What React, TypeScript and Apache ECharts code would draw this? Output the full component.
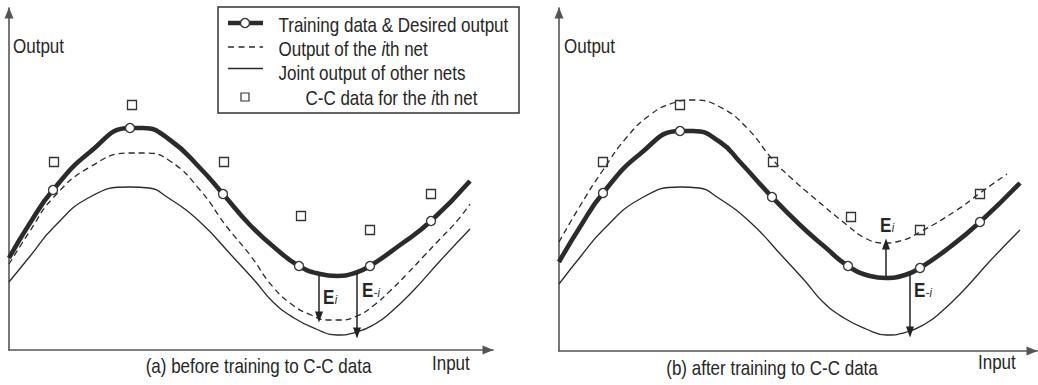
import React, { useEffect, useRef } from "react";
import * as echarts from "echarts";

// ---- Panel (a): before training to C-C data (units: abstract input/output) ----
const desiredA = [[0,92],[21,127],[44,160],[81,198],[121,222],[134,222],[161,210],[191,182],[214,156],[241,125],[266,102],[290,84],[311,76],[328,74],[346,77],[361,84],[391,105],[422,129],[461,169]];
const ithNetA = [[0,86],[21,119],[44,152],[81,183],[121,197],[136,197],[161,189],[191,160],[218,123],[241,95],[264,63],[285,44],[302,35],[318,30],[331,30],[348,34],[364,44],[381,59],[398,76],[414,93],[431,111],[448,129],[461,146]];
const otherNetsA = [[0,68],[22,95],[44,122],[81,153],[121,163],[140,162],[158,153],[191,128],[224,93],[246,69],[264,48],[285,32],[307,21],[328,15],[348,18],[366,26],[381,37],[404,59],[431,89],[461,121]];
const trainingA = [[44,160],[121,222],[214,156],[290,84],[361,84],[422,129]];
const ccDataA = [[45,188],[123,245],[215,188],[292,134],[361,120],[422,156]];
const errArrowsA = [[[310,74],[310,33]],[[348,77],[348,17]]];
const errLabelsA = [{ sub: "i", at: [314,53] }, { sub: "-i", at: [353,60] }];

// ---- Panel (b): after training to C-C data ----
const desiredB = [[0,89],[21,124],[44,158],[81,197],[121,220],[134,220],[161,209],[181,189],[213,154],[241,126],[266,104],[289,85],[311,75],[327,73],[346,76],[361,83],[391,104],[421,129],[461,168]];
const ithNetB = [[0,109],[21,145],[44,181],[68,214],[91,236],[114,248],[134,251],[161,244],[188,223],[214,191],[231,174],[254,154],[288,126],[306,113],[324,108],[341,110],[361,119],[398,141],[421,158],[448,177]];
const otherNetsB = [[0,67],[22,95],[44,121],[81,152],[121,164],[140,163],[158,154],[191,129],[224,94],[246,70],[264,49],[285,33],[307,22],[328,16],[348,19],[366,27],[381,38],[404,60],[431,90],[461,121]];
const trainingB = [[44,158],[121,220],[213,154],[289,85],[361,83],[421,129]];
const ccDataB = [[44,189],[121,246],[214,189],[292,134],[361,121],[421,157]];
const errArrowsB = [[[327,75],[327,107]],[[351,78],[351,19]]];
const errLabelsB = [{ sub: "i", at: [321,126] }, { sub: "-i", at: [355,61] }];

// ---- Texts ----
const legendItems = [
  "Training data & Desired output",
  "Output of the {it|i}th net",
  "Joint output of other nets",
  "C-C data for the {it|i}th net",
];
const captions = ["(a) before training to C-C data", "(b) after training to C-C data"];
const yAxisName = "Output";
const xAxisName = "Input";

const FONT = "'Liberation Sans', Arial, Helvetica, sans-serif";
const INK = "#262626";
const AXIS = "#555";
const SX = 0.85;

function txt(text: string, x: number, y: number, extra: any = {}) {
  const { align = "left", ...rest } = extra;
  return {
    type: "text",
    x,
    y,
    scaleX: SX,
    silent: true,
    z: 100,
    style: {
      text,
      fontSize: 20,
      fontFamily: FONT,
      fill: INK,
      align,
      textAlign: align,
      verticalAlign: "middle",
      textVerticalAlign: "middle",
      rich: { it: { fontStyle: "italic", fontSize: 20, fontFamily: FONT, fill: INK } },
      ...rest,
    },
  };
}

function axisPair(grid: number, xmax: number, ymax: number) {
  const line = { show: true, onZero: false, symbol: ["none", "triangle"], symbolSize: [9, 11], symbolOffset: [0, -5], lineStyle: { color: AXIS, width: 1.6 } };
  return {
    x: { type: "value", gridIndex: grid, min: 0, max: xmax, axisLine: line, axisTick: { show: false }, axisLabel: { show: false }, splitLine: { show: false } },
    y: { type: "value", gridIndex: grid, min: 0, max: ymax, axisLine: line, axisTick: { show: false }, axisLabel: { show: false }, splitLine: { show: false } },
  };
}

function panelSeries(idx: number, desired: number[][], ith: number[][], others: number[][], training: number[][], cc: number[][], arrows: number[][][]) {
  const base = { xAxisIndex: idx, yAxisIndex: idx, silent: true, emphasis: { disabled: true } };
  return [
    {
      ...base, type: "line", name: "Joint output of other nets", data: others, smooth: 0.5, showSymbol: false, symbol: "none",
      lineStyle: { color: "#2a2a2a", width: 1.3 },
      markLine: {
        silent: true, symbol: ["none", "triangle"], symbolSize: [8, 11],
        label: { show: false }, lineStyle: { color: "#222", width: 1.5, type: "solid" },
        itemStyle: { color: "#222" },
        emphasis: { disabled: true },
        data: arrows.map(([s, e]) => [{ coord: s }, { coord: e }]),
      },
    },
    { ...base, type: "line", name: "Output of the ith net", data: ith, smooth: 0.5, showSymbol: false, symbol: "none", lineStyle: { color: "#2a2a2a", width: 1.3, type: [6, 4] } },
    { ...base, type: "line", name: "Desired output", data: desired, smooth: 0.5, showSymbol: false, symbol: "none", lineStyle: { color: "#2b2b2b", width: 4.6 }, z: 3 },
    { ...base, type: "scatter", name: "C-C data", data: cc, symbol: "rect", symbolSize: 9, itemStyle: { color: "rgba(255,255,255,0)", borderColor: "#333", borderWidth: 1.3, opacity: 1 }, z: 4 },
    { ...base, type: "scatter", name: "Training data", data: training, symbol: "circle", symbolSize: 9, itemStyle: { color: "#fff", borderColor: "#333", borderWidth: 1.3, opacity: 1 }, z: 5 },
  ];
}

export default function App() {
  const ref = useRef<HTMLDivElement>(null);
  useEffect(() => {
    document.body.style.margin = "0";
    const chart = echarts.init(ref.current!, null, { renderer: "svg" });
    const a = axisPair(0, 484, 342);
    const b = axisPair(1, 478, 343);
    chart.setOption({
      animation: false,
      grid: [
        { left: 9, top: 8, width: 484, height: 342 },
        { left: 559, top: 8, width: 478, height: 343 },
      ],
      xAxis: [a.x, b.x],
      yAxis: [a.y, b.y],
      series: [
        ...panelSeries(0, desiredA, ithNetA, otherNetsA, trainingA, ccDataA, errArrowsA),
        ...panelSeries(1, desiredB, ithNetB, otherNetsB, trainingB, ccDataB, errArrowsB),
      ],
    });

    const px = (g: number, v: number[]) => chart.convertToPixel({ gridIndex: g } as any, v) as number[];
    const errEls: any[] = [];
    [errLabelsA, errLabelsB].forEach((labels, g) => {
      labels.forEach((l) => {
        const [x, y] = px(g, l.at);
        errEls.push(txt("E", x, y, { fontWeight: "bold", fontSize: 20 }));
        errEls.push(txt(l.sub, x + 11.8, y + 2.6, { fontStyle: "italic", fontSize: 13 }));
      });
    });

    const rowsY = [24.5, 48.5, 72.5, 97.5];
    const legendEls: any[] = [
      { type: "rect", shape: { x: 218, y: 7, width: 301, height: 106 }, style: { fill: "#fff", stroke: "#333", lineWidth: 1.5 }, z: 90, silent: true },
      { type: "line", shape: { x1: 228, y1: 23, x2: 263, y2: 23 }, style: { stroke: "#2b2b2b", lineWidth: 4.6 }, z: 91, silent: true },
      { type: "circle", shape: { cx: 245, cy: 23, r: 4.5 }, style: { fill: "#fff", stroke: "#333", lineWidth: 1.3 }, z: 92, silent: true },
      { type: "line", shape: { x1: 228, y1: 47, x2: 263, y2: 47 }, style: { stroke: "#2a2a2a", lineWidth: 1.4, lineDash: [6, 4.5] }, z: 91, silent: true },
      { type: "line", shape: { x1: 228, y1: 68.5, x2: 263, y2: 68.5 }, style: { stroke: "#2a2a2a", lineWidth: 1.4 }, z: 91, silent: true },
      { type: "rect", shape: { x: 241, y: 93, width: 8, height: 8 }, style: { fill: "#fff", stroke: "#333", lineWidth: 1.2 }, z: 91, silent: true },
      ...legendItems.map((t, i) => txt(t, i === 3 ? 305.5 : 278.5, rowsY[i])),
    ];

    const textEls = [
      txt(yAxisName, 13, 45.5),
      txt(yAxisName, 564, 45.5),
      txt(xAxisName, 432, 362.5),
      txt(xAxisName, 978, 362),
      txt(captions[0], 258.5, 366, { align: "center" }),
      txt(captions[1], 772, 367.5, { align: "center" }),
    ];

    chart.setOption({ graphic: [...legendEls, ...textEls, ...errEls] });
    return () => chart.dispose();
  }, []);
  return <div ref={ref} style={{ position: "absolute", left: 0, top: 0, width: 1038, height: 385 }} />;
}
